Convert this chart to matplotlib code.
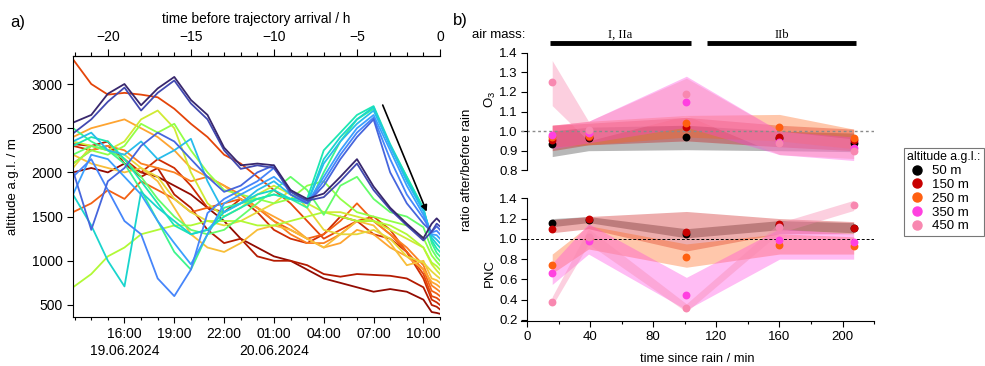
import matplotlib.pyplot as plt
from matplotlib.lines import Line2D
import numpy as np

plt.rcParams['font.family'] = ['Liberation Sans', 'DejaVu Sans']

# ---------------- panel a: back trajectories ----------------
hours_before = [-22.1, -21, -20, -19, -18, -17, -16, -15, -14, -13, -12, -11,
                -10, -9, -8, -7, -6, -5, -4, -3, -2, -1, -0.5, -0.2, 0]
clock_ticks = [-19, -16, -13, -10, -7, -4, -1]
clock_labels = ['16:00\n19.06.2024', '19:00', '22:00', '01:00\n20.06.2024',
                '04:00', '07:00', '10:00']

# one list per arrival height (top = highest arrival, navy ... dark red)
traj_1450 = [2563, 2650, 2890, 3000, 2760, 2950, 3080, 2820, 2650, 2280, 2080, 2100, 2080,
             1800, 1700, 1760, 1950, 2150, 1840, 1600, 1420, 1255, 1420, 1480, 1440]
traj_1400 = [2440, 2600, 2800, 2960, 2700, 2900, 3040, 2780, 2600, 2250, 2040, 2080, 2050,
             1780, 1680, 1720, 1900, 2100, 1800, 1580, 1400, 1230, 1330, 1420, 1390]
traj_1350 = [2020, 1350, 1900, 2050, 2300, 2450, 2350, 2150, 1950, 1780, 1850, 2000, 2080,
             1750, 1650, 1850, 2150, 2400, 2600, 2000, 1650, 1420, 1330, 1390, 1350]
traj_1300 = [1950, 2150, 1800, 1450, 1300, 800, 600, 900, 1540, 1700, 1800, 1900, 2050,
             1800, 1650, 1900, 2200, 2450, 2620, 2150, 1750, 1480, 1320, 1340, 1300]
traj_1250 = [1750, 2200, 2150, 1950, 1750, 1450, 1200, 960, 1300, 1650, 1750, 1850, 1950,
             1800, 1650, 1950, 2250, 2500, 2650, 2250, 1850, 1520, 1300, 1290, 1250]
traj_1200 = [2350, 2450, 2250, 2200, 2350, 2150, 2250, 2380, 1900, 1550, 1650, 1800, 1900,
             1750, 1650, 2100, 2350, 2550, 2700, 2300, 1900, 1560, 1290, 1240, 1200]
traj_1150 = [1750, 1400, 1000, 710, 1780, 1600, 1450, 1300, 1350, 1550, 1650, 1750, 1800,
             1700, 1650, 2150, 2400, 2600, 2740, 2300, 1920, 1580, 1260, 1190, 1150]
traj_1100 = [2300, 2400, 2350, 2150, 1900, 1650, 1400, 1300, 1350, 1500, 1600, 1700, 1750,
             1700, 1700, 2250, 2450, 2650, 2750, 2320, 1950, 1600, 1230, 1140, 1100]
traj_1050 = [2500, 2350, 2250, 2100, 1800, 1450, 1100, 900, 1300, 1600, 1650, 1700, 1750,
             1700, 1600, 2000, 2350, 2600, 2720, 2300, 1950, 1580, 1200, 1090, 1050]
traj_1000 = [2200, 2300, 2250, 2150, 1950, 1700, 1500, 1350, 1300, 1350, 1500, 1650, 1800,
             1950, 1800, 1520, 1850, 1950, 1700, 1550, 1500, 1380, 1130, 1040, 1000]
traj_950 = [2100, 2250, 2200, 2300, 2550, 2450, 2550, 2250, 2000, 1800, 1750, 1700, 1650,
            1700, 1850, 1900, 1700, 1550, 1500, 1450, 1400, 1260, 1060, 990, 950]
traj_900 = [700, 850, 1050, 1150, 1300, 1350, 1400, 1400, 1450, 1450, 1450, 1400, 1400,
            1450, 1500, 1550, 1500, 1450, 1450, 1400, 1300, 1150, 980, 940, 900]
traj_850 = [2350, 2300, 2250, 2350, 2600, 2700, 2500, 2000, 1650, 1500, 1600, 1750, 1850,
            1750, 1650, 1550, 1550, 1500, 1450, 1350, 1250, 1150, 960, 890, 850]
traj_800 = [2050, 2300, 2250, 2200, 2050, 1950, 1700, 1550, 1450, 1400, 1450, 1550, 1650,
            1800, 1600, 1350, 1300, 1300, 1350, 1250, 1050, 980, 880, 830, 800]
traj_750 = [2200, 2100, 2050, 2000, 2050, 1900, 1600, 1300, 1150, 1100, 1200, 1350, 1400,
            1350, 1250, 1150, 1300, 1450, 1400, 1200, 950, 1000, 800, 780, 750]
traj_700 = [2400, 2500, 2550, 2600, 2500, 2400, 2250, 2050, 1950, 1850, 1700, 1600, 1500,
            1400, 1250, 1150, 1200, 1350, 1300, 1150, 1050, 900, 760, 730, 700]
traj_650 = [2100, 2250, 2300, 2250, 2100, 2050, 2000, 1900, 1950, 1850, 1750, 1600, 1450,
            1300, 1200, 1200, 1300, 1450, 1450, 1300, 1150, 950, 720, 680, 650]
traj_600 = [1550, 1650, 1800, 1700, 1900, 1800, 1700, 1550, 1600, 1650, 1700, 1600, 1450,
            1350, 1250, 1300, 1450, 1650, 1450, 1300, 1100, 900, 660, 630, 600]
traj_550 = [3280, 3000, 2880, 2900, 2880, 2850, 2720, 2550, 2400, 2200, 2100, 1950, 1800,
            1650, 1450, 1250, 1350, 1450, 1500, 1350, 1100, 850, 600, 580, 550]
traj_500 = [2300, 2250, 2300, 2150, 2000, 2150, 2050, 1850, 1600, 1550, 1700, 1550, 1350,
            1250, 1200, 1300, 1500, 1450, 1300, 1250, 1100, 800, 560, 530, 500]
traj_450 = [2320, 2300, 2350, 2100, 1950, 2050, 1750, 1600, 1350, 1200, 1250, 1050, 1000,
            1000, 950, 850, 820, 850, 840, 830, 800, 700, 500, 480, 450]
traj_400 = [2000, 2050, 2000, 2100, 2000, 1950, 1850, 1750, 1600, 1450, 1250, 1150, 1050,
            1000, 900, 800, 750, 700, 650, 680, 650, 560, 420, 410, 400]

trajectories = [traj_1450, traj_1400, traj_1350, traj_1300, traj_1250, traj_1200,
                traj_1150, traj_1100, traj_1050, traj_1000, traj_950, traj_900,
                traj_850, traj_800, traj_750, traj_700, traj_650, traj_600,
                traj_550, traj_500, traj_450, traj_400]

# ---------------- panel b: ratios after/before rain ----------------
t_rain = [16, 39, 101, 160, 207]
alt_names = ['50 m', '150 m', '250 m', '350 m', '450 m']
alt_colors = ['#000000', '#c80000', '#ff6010', '#ff40e0', '#f888b0']
band_alpha = [0.28, 0.32, 0.35, 0.35, 0.4]

o3_50 = [0.935, 0.965, 0.97, 0.965, 0.94]
o3_150 = [0.955, 0.97, 1.02, 0.97, 0.955]
o3_250 = [0.97, 0.975, 1.04, 1.02, 0.963]
o3_350 = [0.98, 0.99, 1.15, 0.945, 0.912]
o3_450 = [1.25, 1.005, 1.19, 0.94, 0.90]
o3_50_lo = [0.87, 0.90, 0.905, 0.90, 0.895]
o3_50_hi = [1.00, 1.02, 1.03, 1.00, 0.99]
o3_150_lo = [0.90, 0.93, 0.95, 0.92, 0.90]
o3_150_hi = [1.03, 1.04, 1.07, 1.03, 1.01]
o3_250_lo = [0.92, 0.93, 0.97, 0.95, 0.91]
o3_250_hi = [1.03, 1.05, 1.08, 1.085, 1.01]
o3_350_lo = [0.91, 0.94, 1.02, 0.88, 0.85]
o3_350_hi = [1.03, 1.05, 1.28, 1.00, 0.97]
o3_450_lo = [1.13, 0.95, 1.08, 0.88, 0.86]
o3_450_hi = [1.36, 1.05, 1.27, 1.00, 0.96]

pnc_50 = [1.16, 1.19, 1.05, 1.14, 1.11]
pnc_150 = [1.10, 1.20, 1.07, 1.15, 1.11]
pnc_250 = [0.74, 1.00, 0.825, 0.94, 0.93]
pnc_350 = [0.66, 0.98, 0.445, 0.99, 0.965]
pnc_450 = [0.38, 1.02, 0.315, 1.12, 1.33]
pnc_50_lo = [1.12, 1.16, 1.01, 1.09, 1.06]
pnc_50_hi = [1.20, 1.22, 1.10, 1.18, 1.16]
pnc_150_lo = [1.06, 1.10, 0.88, 1.05, 1.05]
pnc_150_hi = [1.19, 1.22, 1.27, 1.20, 1.17]
pnc_250_lo = [0.66, 0.90, 0.72, 0.85, 0.85]
pnc_250_hi = [0.85, 1.13, 0.95, 1.05, 1.02]
pnc_350_lo = [0.55, 0.85, 0.30, 0.80, 0.80]
pnc_350_hi = [0.76, 1.15, 0.62, 1.10, 1.05]
pnc_450_lo = [0.34, 0.95, 0.28, 1.06, 1.28]
pnc_450_hi = [0.43, 1.10, 0.36, 1.16, 1.38]

airmass_names = ['I, IIa', 'IIb']
airmass_start = [14.6, 113.9]
airmass_end = [103.7, 208.5]

o3_sets = [(o3_50, o3_50_lo, o3_50_hi), (o3_150, o3_150_lo, o3_150_hi),
           (o3_250, o3_250_lo, o3_250_hi), (o3_350, o3_350_lo, o3_350_hi),
           (o3_450, o3_450_lo, o3_450_hi)]
pnc_sets = [(pnc_50, pnc_50_lo, pnc_50_hi), (pnc_150, pnc_150_lo, pnc_150_hi),
            (pnc_250, pnc_250_lo, pnc_250_hi), (pnc_350, pnc_350_lo, pnc_350_hi),
            (pnc_450, pnc_450_lo, pnc_450_hi)]

fig = plt.figure(figsize=(9.85, 3.66), dpi=100)

# ---- panel a ----
axa = fig.add_axes([0.0741, 0.1339, 0.3726, 0.7131])
colors = plt.get_cmap('turbo')(np.linspace(0.03, 0.97, len(trajectories)))
for i in range(len(trajectories) - 1, -1, -1):
    axa.plot(hours_before, trajectories[i], color=colors[i], lw=1.3)
axa.annotate('', xy=(-0.8, 1556), xytext=(-3.45, 2762),
             arrowprops=dict(arrowstyle='-|>', color='k', lw=1.2, mutation_scale=9,
                             shrinkA=0, shrinkB=0))
axa.set_xlim(-22.1, 0)
axa.set_ylim(364, 3317)
axa.set_yticks([500, 1000, 1500, 2000, 2500, 3000])
axa.set_xticks(clock_ticks)
axa.set_xticklabels(clock_labels)
axa.set_xticks(np.arange(-22, 1), minor=True)
axa.spines['right'].set_visible(False)
axa.tick_params(direction='out', labelsize=10, length=4, width=0.8)
axa.tick_params(which='minor', length=2.5, width=0.8)
axa.set_ylabel('altitude a.g.l. / m', fontsize=9.5, labelpad=9)
top = axa.secondary_xaxis('top')
top.set_xticks([-20, -15, -10, -5, 0])
top.set_xticks(np.arange(-22, 1), minor=True)
top.tick_params(direction='out', labelsize=10, length=5, width=0.8)
top.tick_params(which='minor', length=3, width=0.8)
top.set_xlabel('time before trajectory arrival / h', fontsize=9.8, labelpad=5)

# ---- panel b ----
axo = fig.add_axes([0.5289, 0.524, 0.3586, 0.3427])
axp = fig.add_axes([0.5289, 0.1216, 0.3586, 0.356])

for ax, sets in [(axo, o3_sets), (axp, pnc_sets)]:
    for (vals, lo, hi), c, a in zip(sets, alt_colors, band_alpha):
        ax.fill_between(t_rain, lo, hi, color=c, alpha=a, lw=0)
    for (vals, lo, hi), c in zip(sets, alt_colors):
        ax.scatter(t_rain, vals, s=32, color=c, zorder=3, lw=0)
    ax.set_xlim(-3.8, 220)
    ax.spines['top'].set_visible(False)
    ax.spines['right'].set_visible(False)
    ax.spines['left'].set_position(('data', 0))
    ax.tick_params(direction='out', labelsize=9.5, length=4, width=0.8, pad=2.5)

axo.axhline(1.0, color='#8a8a8a', ls=(0, (2, 2)), lw=1.0)
axp.axhline(1.0, color='k', ls=(0, (3, 2)), lw=0.7)

axo.set_ylim(0.78, 1.42)
axo.set_yticks([0.8, 0.9, 1.0, 1.1, 1.2, 1.3, 1.4])
axo.spines['left'].set_bounds(0.8, 1.4)
axo.spines['bottom'].set_visible(False)
axo.tick_params(bottom=False, labelbottom=False)

axp.set_ylim(0.185, 1.47)
axp.set_yticks([0.2, 0.4, 0.6, 0.8, 1.0, 1.2, 1.4])
axp.spines['left'].set_bounds(0.2, 1.4)
axp.set_xticks([0, 40, 80, 120, 160, 200])
axp.set_xticks([20, 60, 100, 140, 180, 220], minor=True)
axp.tick_params(which='minor', direction='out', length=2.5, width=0.8)

for name, s, e in zip(airmass_names, airmass_start, airmass_end):
    axo.plot([s, e], [1.448, 1.448], color='k', lw=3.5, solid_capstyle='butt', clip_on=False)
    axo.text((s + e) / 2, 1.49, name, ha='center', va='center', fontsize=9,
             family='Liberation Serif', clip_on=False)
axo.text(-1, 1.49, 'air mass:', ha='right', va='center', fontsize=9.5, clip_on=False)

fig.text(467 / 985, 1 - 170 / 366, 'ratio after/before rain', rotation=90,
         ha='center', va='center', fontsize=9.5)
fig.text(490 / 985, 1 - 99 / 366, r'$\mathregular{O_3}$', rotation=90,
         ha='center', va='center', fontsize=9.5)
fig.text(490 / 985, 1 - 273 / 366, 'PNC', rotation=90, ha='center', va='center',
         fontsize=9.5)
fig.text(697 / 985, 1 - 359 / 366, 'time since rain / min', ha='center', va='center',
         fontsize=9.3)

fig.text(10 / 985, 1 - 22 / 366, 'a)', fontsize=12, va='center')
fig.text(453 / 985, 1 - 20 / 366, 'b)', fontsize=12, va='center')

handles = [Line2D([], [], ls='', marker='o', markersize=6.5, color=c) for c in alt_colors]
leg = fig.legend(handles, alt_names, title='altitude a.g.l.:', loc='upper left',
                 bbox_to_anchor=(904 / 985, 1 - 148 / 366), fontsize=9.5,
                 title_fontsize=8.8, frameon=True, fancybox=False, edgecolor='#555555',
                 borderpad=0.25, labelspacing=0.12, handletextpad=0.5, handlelength=1.4,
                 borderaxespad=0, alignment='left')
leg.get_frame().set_linewidth(0.8)

fig.savefig('out.png', dpi=100)
